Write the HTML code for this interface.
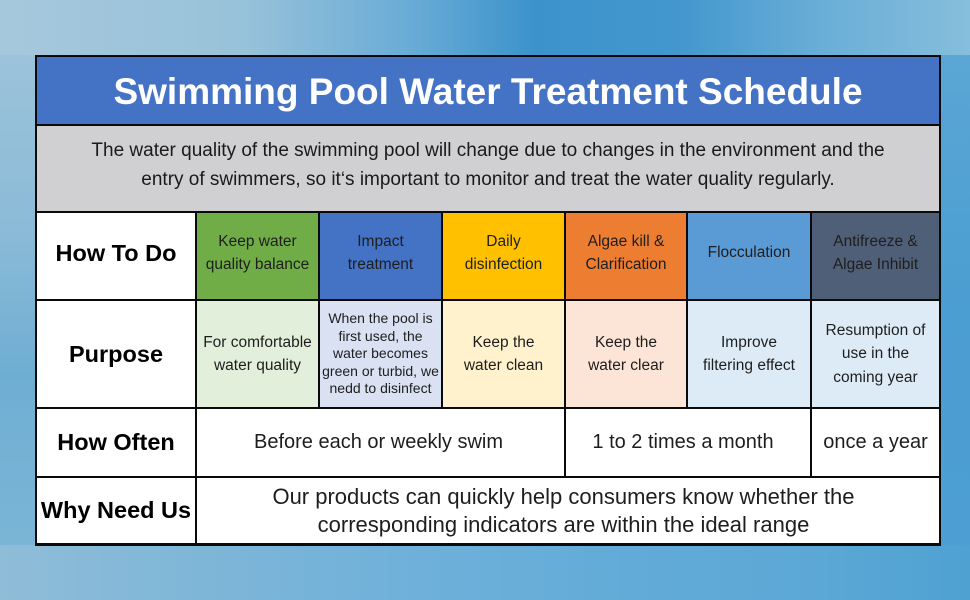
<!DOCTYPE html>
<html>
<head>
<meta charset="utf-8">
<style>
html,body{margin:0;padding:0;}
body{width:970px;height:600px;position:relative;overflow:hidden;font-family:"Liberation Sans",Arial,sans-serif;background:#5fa8d4;}
.bg{position:absolute;}
.c{position:absolute;display:flex;align-items:center;justify-content:center;text-align:center;color:#1e1e1e;box-sizing:border-box;}
.h{font-size:15.5px;line-height:23.5px;padding-bottom:6px;}
.p{font-size:15.5px;line-height:23.5px;}
.lbl{font-weight:bold;font-size:23.5px;color:#000;}
.ln{position:absolute;background:#0a0a0a;}
</style>
</head>
<body>
<!-- background water -->
<div class="bg" style="left:0;top:0;width:970px;height:60px;background:linear-gradient(90deg,#a6c8dc 0%,#98c2da 25%,#6aacd6 42%,#3c93cb 55%,#4397ce 70%,#6aaed7 85%,#86bedc 100%);"></div>
<div class="bg" style="left:0;top:540px;width:970px;height:60px;background:linear-gradient(90deg,#8fbdd8 0%,#7fb6d8 20%,#6db0da 45%,#62abd8 65%,#5ba7d5 85%,#4fa1d2 100%);"></div>
<div class="bg" style="left:0;top:55px;width:36px;height:490px;background:linear-gradient(180deg,#9cc3da 0%,#8bbbd7 35%,#6faed3 65%,#7ab5d6 100%);"></div>
<div class="bg" style="left:939px;top:55px;width:31px;height:490px;background:linear-gradient(180deg,#5ba6d4 0%,#4b9ed2 50%,#4d9fd3 100%);"></div>

<!-- title -->
<div class="bg" style="left:35px;top:55px;width:906px;height:71px;background:#4472c4;"></div>
<div style="position:absolute;left:35px;top:72px;width:906px;text-align:center;font-weight:bold;font-size:37px;line-height:40px;color:#fff;">Swimming Pool Water Treatment Schedule</div>

<!-- subtitle -->
<div class="bg" style="left:35px;top:125px;width:906px;height:87px;background:#d0d0d3;"></div>
<div style="position:absolute;left:35px;top:137px;width:906px;text-align:center;font-size:19px;line-height:28.7px;color:#1a1a1a;">The water quality of the swimming pool will change due to changes in the environment and the<br>entry of swimmers, so it‘s important to monitor and treat the water quality regularly.</div>

<!-- row: How To Do -->
<div class="c lbl" style="left:36px;top:212px;width:160px;height:88px;background:#fff;padding-bottom:6px;">How To Do</div>
<div class="c h" style="left:196px;top:212px;width:123px;height:88px;background:#70ad47;">Keep water<br>quality balance</div>
<div class="c h" style="left:319px;top:212px;width:123px;height:88px;background:#4472c4;">Impact<br>treatment</div>
<div class="c h" style="left:442px;top:212px;width:123px;height:88px;background:#ffc000;">Daily<br>disinfection</div>
<div class="c h" style="left:565px;top:212px;width:122px;height:88px;background:#ed7d31;">Algae kill &amp;<br>Clarification</div>
<div class="c h" style="left:687px;top:212px;width:124px;height:88px;background:#5b9bd5;">Flocculation</div>
<div class="c h" style="left:811px;top:212px;width:129px;height:88px;background:#4f5f77;">Antifreeze &amp;<br>Algae Inhibit</div>

<!-- row: Purpose -->
<div class="c lbl" style="left:36px;top:300px;width:160px;height:108px;background:#fff;">Purpose</div>
<div class="c p" style="left:196px;top:300px;width:123px;height:108px;background:#e2efda;">For comfortable<br>water quality</div>
<div class="c" style="left:319px;top:300px;width:123px;height:108px;background:#d9e1f2;font-size:14px;line-height:17.5px;">When the pool is<br>first used, the<br>water becomes<br>green or turbid, we<br>nedd to disinfect</div>
<div class="c p" style="left:442px;top:300px;width:123px;height:108px;background:#fff2cc;">Keep the<br>water clean</div>
<div class="c p" style="left:565px;top:300px;width:122px;height:108px;background:#fce4d6;">Keep the<br>water clear</div>
<div class="c p" style="left:687px;top:300px;width:124px;height:108px;background:#ddebf7;">Improve<br>filtering effect</div>
<div class="c p" style="left:811px;top:300px;width:129px;height:108px;background:#ddebf7;">Resumption of<br>use in the<br>coming year</div>

<!-- row: How Often -->
<div class="c lbl" style="left:36px;top:408px;width:160px;height:69px;background:#fff;">How Often</div>
<div class="c" style="left:196px;top:408px;width:369px;height:69px;background:#fff;font-size:20px;padding-right:4px;">Before each or weekly swim</div>
<div class="c" style="left:565px;top:408px;width:246px;height:69px;background:#fff;font-size:20px;padding-right:10px;">1 to 2 times a month</div>
<div class="c" style="left:811px;top:408px;width:129px;height:69px;background:#fff;font-size:20px;">once a year</div>

<!-- row: Why Need Us -->
<div class="c lbl" style="left:36px;top:477px;width:160px;height:67px;background:#fff;">Why Need Us</div>
<div class="c" style="left:196px;top:477px;width:744px;height:67px;background:#fff;font-size:22px;line-height:28px;padding-right:9px;">Our products can quickly help consumers know whether the<br>corresponding indicators are within the ideal range</div>

<!-- grid lines -->
<div class="ln" style="left:35px;top:55px;width:906px;height:2px;"></div>
<div class="ln" style="left:35px;top:124px;width:906px;height:2px;"></div>
<div class="ln" style="left:35px;top:211px;width:906px;height:2px;"></div>
<div class="ln" style="left:35px;top:299px;width:906px;height:2px;"></div>
<div class="ln" style="left:35px;top:407px;width:906px;height:2px;"></div>
<div class="ln" style="left:35px;top:476px;width:906px;height:2px;"></div>
<div class="ln" style="left:35px;top:543px;width:906px;height:2.5px;"></div>

<div class="ln" style="left:35px;top:55px;width:2px;height:490px;"></div>
<div class="ln" style="left:939px;top:55px;width:2px;height:490px;"></div>
<div class="ln" style="left:195px;top:211px;width:2px;height:333px;"></div>
<div class="ln" style="left:318px;top:211px;width:2px;height:197px;"></div>
<div class="ln" style="left:441px;top:211px;width:2px;height:197px;"></div>
<div class="ln" style="left:564px;top:211px;width:2px;height:266px;"></div>
<div class="ln" style="left:686px;top:211px;width:2px;height:197px;"></div>
<div class="ln" style="left:810px;top:211px;width:2px;height:266px;"></div>
</body>
</html>
